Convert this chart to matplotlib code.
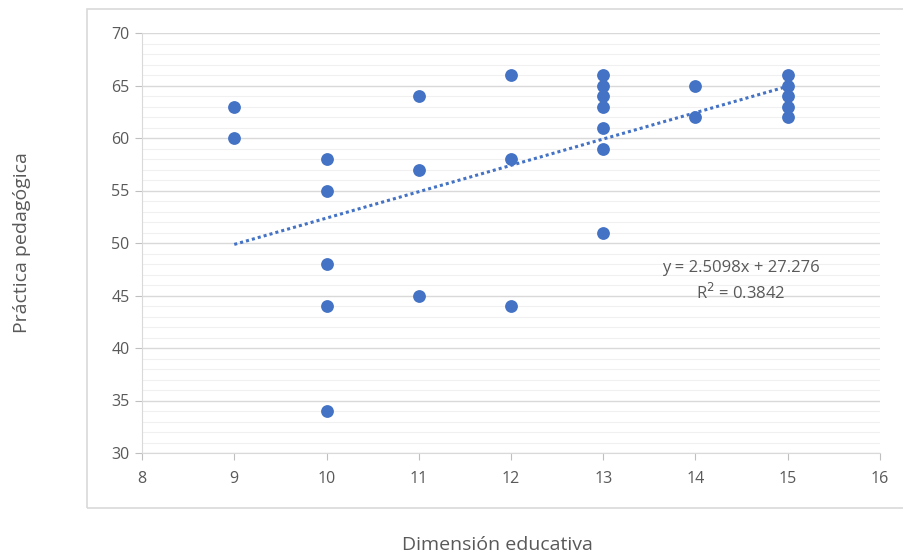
import matplotlib.pyplot as plt
import numpy as np
from matplotlib.patches import Rectangle

# values
dimensionEducativa = [9, 9,
                      10, 10, 10, 10, 10,
                      11, 11, 11,
                      12, 12, 12,
                      13, 13, 13, 13, 13, 13, 13,
                      14, 14,
                      15, 15, 15, 15, 15]
practicaPedagogica = [63, 60,
                      58, 55, 48, 44, 34,
                      64, 57, 45,
                      66, 58, 44,
                      66, 65, 64, 63, 61, 59, 51,
                      65, 62,
                      66, 65, 64, 63, 62]

# trendline coefficients as shown on the chart
slope = 2.5098
intercept = 27.276
rSquared = 0.3842

xTicks = [8, 9, 10, 11, 12, 13, 14, 15, 16]
yTicks = [30, 35, 40, 45, 50, 55, 60, 65, 70]

plt.rcParams['font.family'] = ['Open Sans', 'DejaVu Sans']
blue = "#4472C4"
grey = "#595959"

fig = plt.figure(figsize=(9.04, 5.58), dpi=100)
fig.patches.append(Rectangle((87/904, 1-508/558), 1.0, (508-9)/558, transform=fig.transFigure,
                             fill=False, edgecolor="#D9D9D9", linewidth=1.2))

ax = fig.add_axes([142/904, 1-453/558, (880-142)/904, (453-33)/558])
ax.set_xlim(8, 16)
ax.set_ylim(30, 70)

# gridlines: major every 5, minor every 1, horizontal only
for v in range(30, 71):
    if v % 5 == 0:
        ax.axhline(v, color="#D9D9D9", linewidth=1.0, zorder=0)
    else:
        ax.axhline(v, color="#F0F0F0", linewidth=0.8, zorder=0)

ax.scatter(dimensionEducativa, practicaPedagogica, s=85, color=blue, zorder=3, linewidths=0)

xLine = np.array([min(dimensionEducativa), max(dimensionEducativa)])
ax.plot(xLine, slope*xLine + intercept, linestyle=(0, (1, 1)), color=blue, linewidth=2.2, zorder=2)

ax.text(14.49, 47.6, "y = %.4fx + %.3f" % (slope, intercept), ha="center", va="center", fontsize=12, color=grey)
ax.text(14.49, 45.2, "R$^2$ = %.4f" % rSquared, ha="center", va="center", fontsize=12, color=grey)

ax.set_xticks(xTicks)
ax.set_yticks(yTicks)
for s in ["top", "right"]:
    ax.spines[s].set_visible(False)
ax.spines["left"].set_color("#D9D9D9")
ax.spines["bottom"].set_color("#D9D9D9")
ax.tick_params(axis="x", colors="#BFBFBF", labelcolor=grey, labelsize=11.5, length=5, pad=8)
ax.tick_params(axis="y", colors="#BFBFBF", labelcolor=grey, labelsize=11.5, length=5, pad=4)

fig.text(22/904, 1-243/558, "Práctica pedagógica", rotation=90, ha="center", va="center", fontsize=14, color=grey)
fig.text(497/904, 1-545/558, "Dimensión educativa", ha="center", va="center", fontsize=14, color=grey)

plt.savefig("out.png", dpi=100)
